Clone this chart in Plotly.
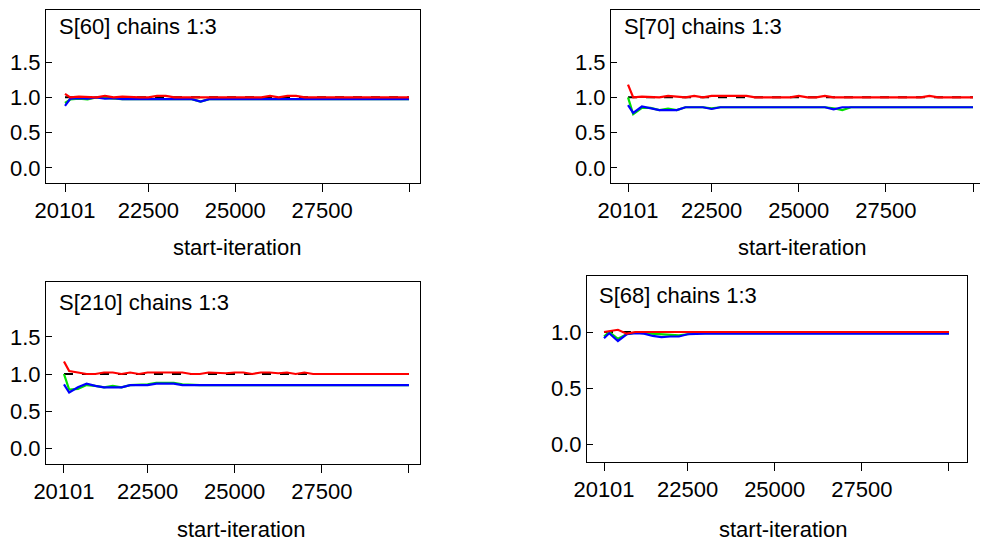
import plotly.graph_objects as go

# ---------------- data ----------------
ITER = [20101] + list(range(20250, 30001, 250))   # 41 start-iterations

TITLES = ["S[60] chains 1:3", "S[70] chains 1:3", "S[210] chains 1:3", "S[68] chains 1:3"]
X_TICKS = [20101, 22500, 25000, 27500, 30000]
X_TICK_TEXT = ["20101", "22500", "25000", "27500", ""]
Y_TICKS_A = [0.0, 0.5, 1.0, 1.5]
Y_TICKS_B = [0.0, 0.5, 1.0]
REF_LEVEL = 1.0

# S[60]
red_60 = [1.05, 1.0, 1.01, 1.0, 1.0, 1.02, 1.0, 1.01, 1.0, 1.0, 1.0, 1.02, 1.02, 1.0,
          1.0, 1.0, 1.0, 1.0, 1.0, 1.0, 1.0, 1.0, 1.0, 1.0, 1.02, 1.0, 1.02, 1.02,
          1.0, 1.0, 1.0, 1.0, 1.0, 1.0, 1.0, 1.0, 1.0, 1.0, 1.0, 1.0, 1.0]
blue_60 = [0.88, 0.98, 0.99, 0.98, 1.0, 0.98, 0.99, 0.975, 0.975, 0.975, 0.975, 0.975, 0.975, 0.975,
           0.975, 0.975, 0.94, 0.975, 0.975, 0.975, 0.975, 0.975, 0.975, 0.975, 0.975, 0.975, 0.975, 0.975,
           0.975, 0.975, 0.975, 0.975, 0.975, 0.975, 0.975, 0.975, 0.975, 0.975, 0.975, 0.975, 0.975]
green_60 = [0.92, 0.97, 0.98, 0.97, 1.0, 0.99, 0.99, 0.975, 0.975, 0.975, 0.975, 0.975, 0.975, 0.975,
            0.975, 0.975, 0.94, 0.975, 0.975, 0.975, 0.975, 0.975, 0.975, 0.975, 0.975, 0.975, 0.975, 0.975,
            0.975, 0.975, 0.975, 0.975, 0.975, 0.975, 0.975, 0.975, 0.975, 0.975, 0.975, 0.975, 0.975]

# S[70]
red_70 = [1.18, 1.0, 1.01, 1.0, 1.0, 1.02, 1.01, 1.0, 1.02, 1.0, 1.02, 1.02, 1.02, 1.01,
          1.02, 1.0, 1.0, 1.0, 1.0, 1.0, 1.02, 1.0, 1.0, 1.02, 1.0, 1.0, 1.0, 1.0,
          1.0, 1.0, 1.0, 1.0, 1.0, 1.0, 1.0, 1.02, 1.0, 1.0, 1.0, 1.0, 1.0]
blue_70 = [0.89, 0.78, 0.87, 0.85, 0.82, 0.82, 0.82, 0.86, 0.86, 0.86, 0.835, 0.86, 0.86, 0.86,
           0.86, 0.86, 0.86, 0.86, 0.86, 0.86, 0.86, 0.86, 0.86, 0.86, 0.83, 0.86, 0.86, 0.86,
           0.86, 0.86, 0.86, 0.86, 0.86, 0.86, 0.86, 0.86, 0.86, 0.86, 0.86, 0.86, 0.86]
green_70 = [1.0, 0.76, 0.85, 0.85, 0.82, 0.84, 0.82, 0.86, 0.86, 0.86, 0.845, 0.86, 0.86, 0.86,
            0.86, 0.86, 0.86, 0.86, 0.86, 0.86, 0.86, 0.86, 0.86, 0.86, 0.845, 0.82, 0.86, 0.86,
            0.86, 0.86, 0.86, 0.86, 0.86, 0.86, 0.86, 0.86, 0.86, 0.86, 0.86, 0.86, 0.86]

# S[210]
red_210 = [1.17, 1.04, 1.02, 1.0, 1.0, 1.02, 1.02, 1.0, 1.02, 1.0, 1.02, 1.02, 1.02, 1.02,
           1.02, 1.0, 1.0, 1.02, 1.01, 1.01, 1.02, 1.02, 1.0, 1.02, 1.02, 1.01, 1.02, 1.0,
           1.02, 1.0, 1.0, 1.0, 1.0, 1.0, 1.0, 1.0, 1.0, 1.0, 1.0, 1.0, 1.0]
blue_210 = [0.86, 0.75, 0.82, 0.87, 0.84, 0.82, 0.82, 0.82, 0.85, 0.85, 0.85, 0.87, 0.87, 0.87,
            0.85, 0.85, 0.85, 0.85, 0.85, 0.85, 0.85, 0.85, 0.85, 0.85, 0.85, 0.85, 0.85, 0.85,
            0.85, 0.85, 0.85, 0.85, 0.85, 0.85, 0.85, 0.85, 0.85, 0.85, 0.85, 0.85, 0.85]
green_210 = [1.0, 0.79, 0.80, 0.85, 0.84, 0.82, 0.84, 0.82, 0.85, 0.85, 0.86, 0.88, 0.88, 0.88,
             0.86, 0.85, 0.85, 0.85, 0.85, 0.85, 0.85, 0.85, 0.85, 0.85, 0.85, 0.85, 0.85, 0.85,
             0.85, 0.85, 0.85, 0.85, 0.85, 0.85, 0.85, 0.85, 0.85, 0.85, 0.85, 0.85, 0.85]

# S[68]
red_68 = [1.0, 1.01, 1.02, 0.985, 1.0, 1.0, 1.0, 1.0, 1.0, 1.0, 1.0, 1.0, 1.0, 1.0,
          1.0, 1.0, 1.0, 1.0, 1.0, 1.0, 1.0, 1.0, 1.0, 1.0, 1.0, 1.0, 1.0, 1.0,
          1.0, 1.0, 1.0, 1.0, 1.0, 1.0, 1.0, 1.0, 1.0, 1.0, 1.0, 1.0, 1.0]
blue_68 = [0.945, 0.99, 0.92, 0.98, 0.99, 0.985, 0.965, 0.955, 0.96, 0.96, 0.98, 0.985, 0.985, 0.985,
           0.985, 0.985, 0.985, 0.985, 0.985, 0.985, 0.985, 0.985, 0.985, 0.985, 0.985, 0.985, 0.985, 0.985,
           0.985, 0.985, 0.985, 0.985, 0.985, 0.985, 0.985, 0.985, 0.985, 0.985, 0.985, 0.985, 0.985]
green_68 = [0.96, 1.0, 0.94, 0.98, 0.995, 0.99, 0.98, 0.975, 0.975, 0.97, 0.98, 0.99, 0.99, 0.99,
            0.99, 0.99, 0.99, 0.99, 0.99, 0.99, 0.99, 0.99, 0.99, 0.99, 0.99, 0.99, 0.99, 0.99,
            0.99, 0.99, 0.99, 0.99, 0.99, 0.99, 0.99, 0.99, 0.99, 0.99, 0.99, 0.99, 0.99]

SERIES = [(green_60, blue_60, red_60), (green_70, blue_70, red_70),
          (green_210, blue_210, red_210), (green_68, blue_68, red_68)]

# ---------------- layout geometry (screen pixels) ----------------
OFF = 8                      # default page body margin
W, H = 988 - OFF, 543 - OFF
FONT = "Liberation Sans, Arial, sans-serif"
FS = 22
# (left, right, top, bottom) of each plot box in screen pixels
BOXES = [(46, 420, 10, 183), (611, 986, 10, 183), (46, 420, 282, 464), (587, 967, 276, 462)]
XRANGES = [[19554, 30316], [19613, 30373], [19585, 30317], [19613, 30517]]
YRANGES = [[-0.213, 2.237], [-0.213, 2.237], [-0.216, 2.243], [-0.16, 1.5]]
YTICKS = [Y_TICKS_A, Y_TICKS_A, Y_TICKS_A, Y_TICKS_B]
TITLE_POS = [(57, 27), (622, 27), (57, 302), (597, 295)]
XLAB_POS = [(237, 247), (802, 247), (241, 529), (783, 529)]


def px(x):
    return (x - OFF) / W


def py(y):
    return 1 - (y - OFF) / H


fig = go.Figure()
layout = dict(width=W, height=H, margin=dict(l=0, r=0, t=0, b=0, pad=0), autosize=False,
              paper_bgcolor="white", plot_bgcolor="white", showlegend=False,
              font=dict(family=FONT, size=FS, color="black"))
annotations = []

for i, ((g, b, r), (l, rr, t, bt)) in enumerate(zip(SERIES, BOXES)):
    n = "" if i == 0 else str(i + 1)
    xa, ya = "x" + n, "y" + n
    fig.add_trace(go.Scatter(x=[ITER[0], ITER[-1]], y=[REF_LEVEL, REF_LEVEL], xaxis=xa, yaxis=ya,
                             mode="lines", line=dict(color="black", width=2, dash="dash"),
                             hoverinfo="skip"))
    fig.add_trace(go.Scatter(x=ITER, y=g, xaxis=xa, yaxis=ya, mode="lines",
                             line=dict(color="#00e000", width=2.2)))
    fig.add_trace(go.Scatter(x=ITER, y=b, xaxis=xa, yaxis=ya, mode="lines",
                             line=dict(color="#0000ff", width=2.2)))
    fig.add_trace(go.Scatter(x=ITER, y=r, xaxis=xa, yaxis=ya, mode="lines",
                             line=dict(color="#ff0000", width=2.2)))
    layout["xaxis" + n] = dict(domain=[px(l), px(rr)], range=XRANGES[i], anchor=ya,
                               automargin=False,
                               showline=True, mirror=True, linecolor="black", linewidth=1,
                               showgrid=False, zeroline=False, ticks="outside", ticklen=8,
                               tickcolor="black", tickvals=X_TICKS, ticktext=X_TICK_TEXT,
                               tickfont=dict(size=FS, family=FONT))
    layout["yaxis" + n] = dict(domain=[py(bt), py(t)], range=YRANGES[i], anchor=xa,
                               automargin=False,
                               showline=True, mirror=True, linecolor="black", linewidth=1,
                               showgrid=False, zeroline=False, ticks="inside", ticklen=6,
                               tickcolor="black", tickvals=YTICKS[i],
                               ticktext=["%.1f" % v for v in YTICKS[i]],
                               tickfont=dict(size=FS, family=FONT))
    tx, ty = TITLE_POS[i]
    annotations.append(dict(x=px(tx), y=py(ty), xref="paper", yref="paper", text=TITLES[i],
                            showarrow=False, xanchor="left", yanchor="middle",
                            font=dict(size=FS, family=FONT)))
    lx, ly = XLAB_POS[i]
    annotations.append(dict(x=px(lx), y=py(ly), xref="paper", yref="paper", text="start-iteration",
                            showarrow=False, xanchor="center", yanchor="middle",
                            font=dict(size=FS, family=FONT)))

layout["annotations"] = annotations
fig.update_layout(**layout)
fig.write_html("out.html")
